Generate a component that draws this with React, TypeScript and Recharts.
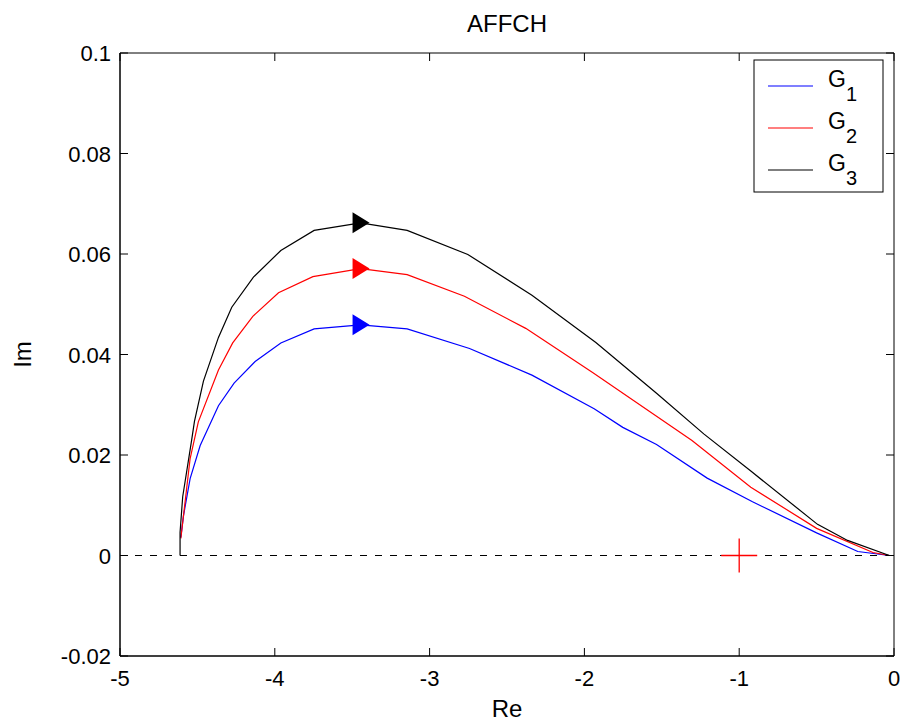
import React from 'react'
import {
  ComposedChart, Line, Scatter, XAxis, YAxis, ReferenceLine, ReferenceArea, Label,
} from 'recharts'

// ─── Data ────────────────────────────────────────────────────────────────────

const X_TICKS = [-5, -4, -3, -2, -1, 0]
const Y_TICKS = [-0.02, 0, 0.02, 0.04, 0.06, 0.08, 0.1]

const G1_RE = [-4.607, -4.59, -4.547, -4.482, -4.364, -4.263, -4.127, -3.961, -3.746, -3.446, -3.145, -2.742, -2.339, -1.937, -1.752, -1.534, -1.207, -0.914, -0.5, -0.234, -0.03]
const G1_IM = [0.0036, 0.0079, 0.0153, 0.0219, 0.0298, 0.0343, 0.0386, 0.0423, 0.0451, 0.0459, 0.0451, 0.0412, 0.0359, 0.0292, 0.0255, 0.0221, 0.0154, 0.0107, 0.0045, 0.0008, 0]

const G2_RE = [-4.607, -4.547, -4.494, -4.364, -4.272, -4.142, -3.976, -3.754, -3.446, -3.145, -2.775, -2.379, -1.947, -1.305, -0.925, -0.5, -0.136, -0.03]
const G2_IM = [0.0034, 0.0193, 0.0266, 0.0369, 0.0423, 0.0476, 0.0523, 0.0555, 0.0571, 0.0559, 0.0516, 0.0452, 0.0364, 0.0229, 0.0136, 0.0054, 0.0006, 0]

const G3_RE = [-4.612, -4.612, -4.595, -4.537, -4.519, -4.461, -4.364, -4.278, -4.138, -3.961, -3.746, -3.446, -3.145, -2.753, -2.339, -1.926, -1.534, -1.229, -0.925, -0.494, -0.3, -0.03]
const G3_IM = [0, 0.0046, 0.0117, 0.023, 0.0267, 0.0347, 0.0434, 0.0494, 0.0554, 0.0607, 0.0647, 0.0662, 0.0647, 0.0599, 0.0518, 0.0424, 0.0323, 0.0242, 0.0168, 0.0062, 0.003, 0]

// direction markers sit on the peak of each curve
const ARROW_RE = [-3.446, -3.446, -3.446]
const ARROW_IM = [0.0459, 0.0571, 0.0662]

// critical point
const CRIT_RE = [-1]
const CRIT_IM = [0]

const SERIES = [
  { name: 'G', sub: '1', color: '#0000ff', re: G1_RE, im: G1_IM },
  { name: 'G', sub: '2', color: '#ff0000', re: G2_RE, im: G2_IM },
  { name: 'G', sub: '3', color: '#000000', re: G3_RE, im: G3_IM },
]

const toPoints = (re: number[], im: number[]) => re.map((r, i) => ({ re: r, im: im[i] }))

// ─── Geometry / style ────────────────────────────────────────────────────────

const W = 905
const H = 724
const PLOT = { left: 120, top: 53, right: 894, bottom: 656 }
const FONT = 'Arial, "Liberation Sans", Helvetica, sans-serif'
const TICK_LEN = 8

function XTick(props: { x?: number; payload?: { value: number } }) {
  const { x = 0, payload } = props
  return (
    <g>
      <line x1={x} x2={x} y1={PLOT.bottom} y2={PLOT.bottom - TICK_LEN} stroke="#000" />
      <line x1={x} x2={x} y1={PLOT.top} y2={PLOT.top + TICK_LEN} stroke="#000" />
      <text x={x} y={PLOT.bottom + 30} textAnchor="middle" fontSize={22} fontFamily={FONT} fill="#000">
        {String(payload?.value)}
      </text>
    </g>
  )
}

function YTick(props: { y?: number; payload?: { value: number } }) {
  const { y = 0, payload } = props
  return (
    <g>
      <line x1={PLOT.left} x2={PLOT.left + TICK_LEN} y1={y} y2={y} stroke="#000" />
      <line x1={PLOT.right} x2={PLOT.right - TICK_LEN} y1={y} y2={y} stroke="#000" />
      <text x={PLOT.left - 9} y={y + 8} textAnchor="end" fontSize={22} fontFamily={FONT} fill="#000">
        {String(payload?.value)}
      </text>
    </g>
  )
}

function Triangle(props: { cx?: number; cy?: number; fill?: string }) {
  const { cx = 0, cy = 0, fill = '#000' } = props
  return <path d={`M${cx - 8},${cy - 10.5} L${cx + 9},${cy} L${cx - 8},${cy + 10.5} Z`} fill={fill} />
}

// '+' marker for the critical point
function Plus(props: { cx?: number; cy?: number }) {
  const { cx = 0, cy = 0 } = props
  return (
    <path
      d={`M${cx - 18},${cy} H${cx + 18} M${cx},${cy - 17} V${cy + 17}`}
      fill="none"
      stroke="#ff0000"
      strokeWidth={1.3}
    />
  )
}

function NyquistLegend() {
  return (
    <svg width={131} height={134} style={{ position: 'absolute', left: 753, top: 59 }}>
      <rect x={1} y={1} width={129} height={132} fill="#fff" stroke="#000" />
      {SERIES.map((s, i) => {
        const y = 27 + i * 42
        return (
          <g key={s.sub}>
            <line x1={15} x2={60} y1={y} y2={y} stroke={s.color} strokeWidth={1.2} />
            <text x={75} y={y + 1} fontSize={23} fontFamily={FONT} fill="#000">
              {s.name}
              <tspan dy={14} fontSize={20}>{s.sub}</tspan>
            </text>
          </g>
        )
      })}
    </svg>
  )
}

export default function App() {
  const midX = (PLOT.left + PLOT.right) / 2
  const midY = (PLOT.top + PLOT.bottom) / 2

  return (
    <div style={{ position: 'absolute', left: 0, top: 0, width: W, height: H, background: '#fff', fontFamily: FONT }}>
      <div
        style={{
          position: 'absolute', left: PLOT.left, width: PLOT.right - PLOT.left, top: 12,
          textAlign: 'center', fontSize: 24, lineHeight: '24px', color: '#000',
        }}
      >
        AFFCH
      </div>

      <ComposedChart width={W} height={H} margin={{ top: PLOT.top, right: W - PLOT.right, bottom: 4, left: 50 }}>
        <XAxis
          type="number"
          dataKey="re"
          domain={[-5, 0]}
          ticks={X_TICKS}
          allowDataOverflow
          height={64}
          tickSize={0}
          tickMargin={0}
          tick={<XTick />}
          axisLine={{ stroke: '#000' }}
        >
          <Label
            content={() => (
              <text x={midX} y={717} textAnchor="middle" fontSize={24} fontFamily={FONT} fill="#000">Re</text>
            )}
          />
        </XAxis>
        <YAxis
          type="number"
          dataKey="im"
          domain={[-0.02, 0.1]}
          ticks={Y_TICKS}
          allowDataOverflow
          width={70}
          tickSize={0}
          tickMargin={0}
          tick={<YTick />}
          axisLine={{ stroke: '#000' }}
        >
          <Label
            content={() => (
              <text
                x={31} y={midY} textAnchor="middle" fontSize={24} fontFamily={FONT} fill="#000"
                transform={`rotate(-90, 31, ${midY})`}
              >
                Im
              </text>
            )}
          />
        </YAxis>

        <ReferenceArea x1={-5} x2={0} y1={-0.02} y2={0.1} fill="none" fillOpacity={0} stroke="#000" strokeOpacity={1} />
        <ReferenceLine y={0} stroke="#000" strokeDasharray="7 8" />

        {SERIES.map((s) => (
          <Line
            key={s.sub}
            data={toPoints(s.re, s.im)}
            dataKey="im"
            type="linear"
            stroke={s.color}
            strokeWidth={1.2}
            dot={false}
            activeDot={false}
            isAnimationActive={false}
          />
        ))}

        {SERIES.map((s, i) => (
          <Scatter
            key={`arrow-${s.sub}`}
            data={[{ re: ARROW_RE[i], im: ARROW_IM[i] }]}
            dataKey="im"
            fill={s.color}
            shape={<Triangle fill={s.color} />}
            isAnimationActive={false}
          />
        ))}

        <Scatter
          data={toPoints(CRIT_RE, CRIT_IM)}
          dataKey="im"
          shape={<Plus />}
          isAnimationActive={false}
        />
      </ComposedChart>

      <NyquistLegend />
    </div>
  )
}
